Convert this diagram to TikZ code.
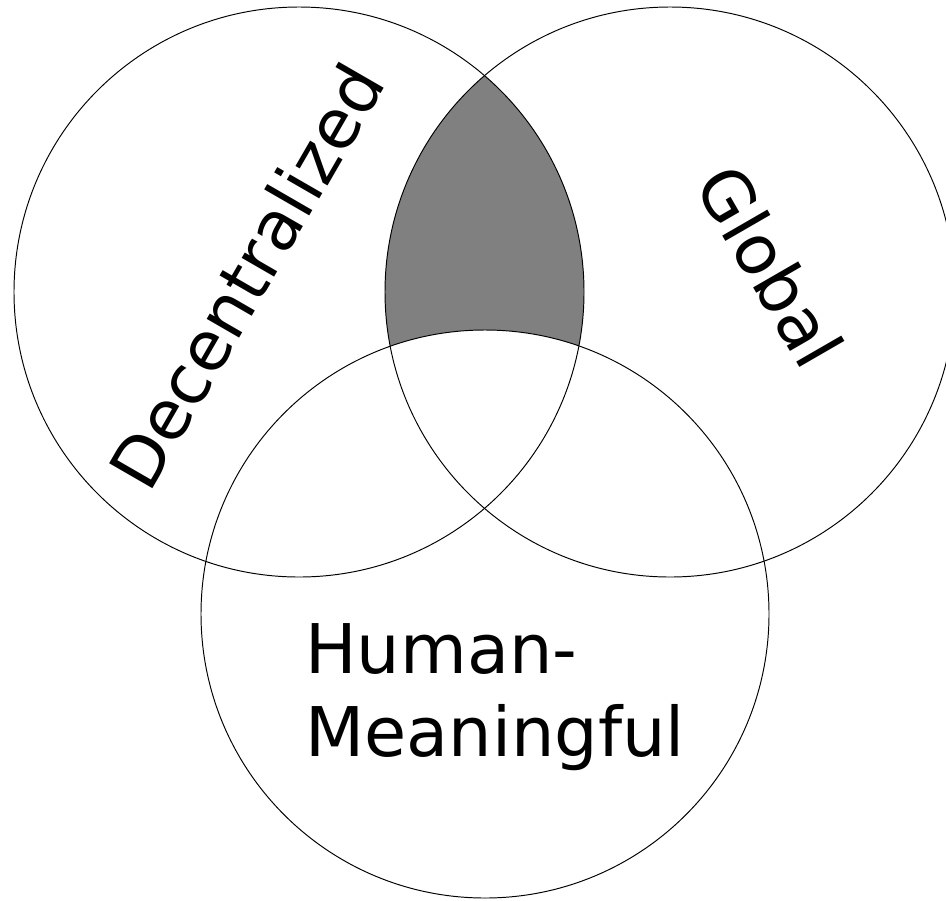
\documentclass[tikz,border=0pt]{standalone}
\usepackage{fontspec}
\setmainfont{DejaVu Sans}
\usetikzlibrary{positioning}
\definecolor{overlapgray}{RGB}{128,128,128}
\definecolor{ringblack}{RGB}{0,0,0}

\begin{document}
\begin{tikzpicture}[
    x=0.02cm, y=-0.02cm,
    ring/.style  = {draw=ringblack, line width=0.55pt},
    setlbl/.style = {font=\fontsize{39}{47.5}\selectfont, inner sep=0pt, align=left},
]
\useasboundingbox (0,0) rectangle (946,900);

% ---- circle centres -------------------------------------------------------
\coordinate (cdec) at (299,292);
\coordinate (cglo) at (670,292);
\coordinate (chum) at (485,614);

% ---- shaded overlap: decentralized and global, not human-meaningful --------
\begin{scope}
  \clip (cdec) circle [radius=285];
  \fill[overlapgray] (cglo) circle [radius=285];
  \fill[white] (chum) circle [radius=284];
\end{scope}

% ---- the three sets --------------------------------------------------------
\draw[ring] (cdec) circle [radius=285];
\draw[ring] (cglo) circle [radius=285];
\draw[ring] (chum) circle [radius=284];

% ---- labels ------------------------------------------------------------------
\node[setlbl, rotate=60] (dec) at (246,276) {Decentralized};
\node[setlbl, rotate=-60] (glo) at (770,266) {Global};
\node[setlbl] (hum) at (495,697) {Human-\\Meaningful};
\end{tikzpicture}
\end{document}
